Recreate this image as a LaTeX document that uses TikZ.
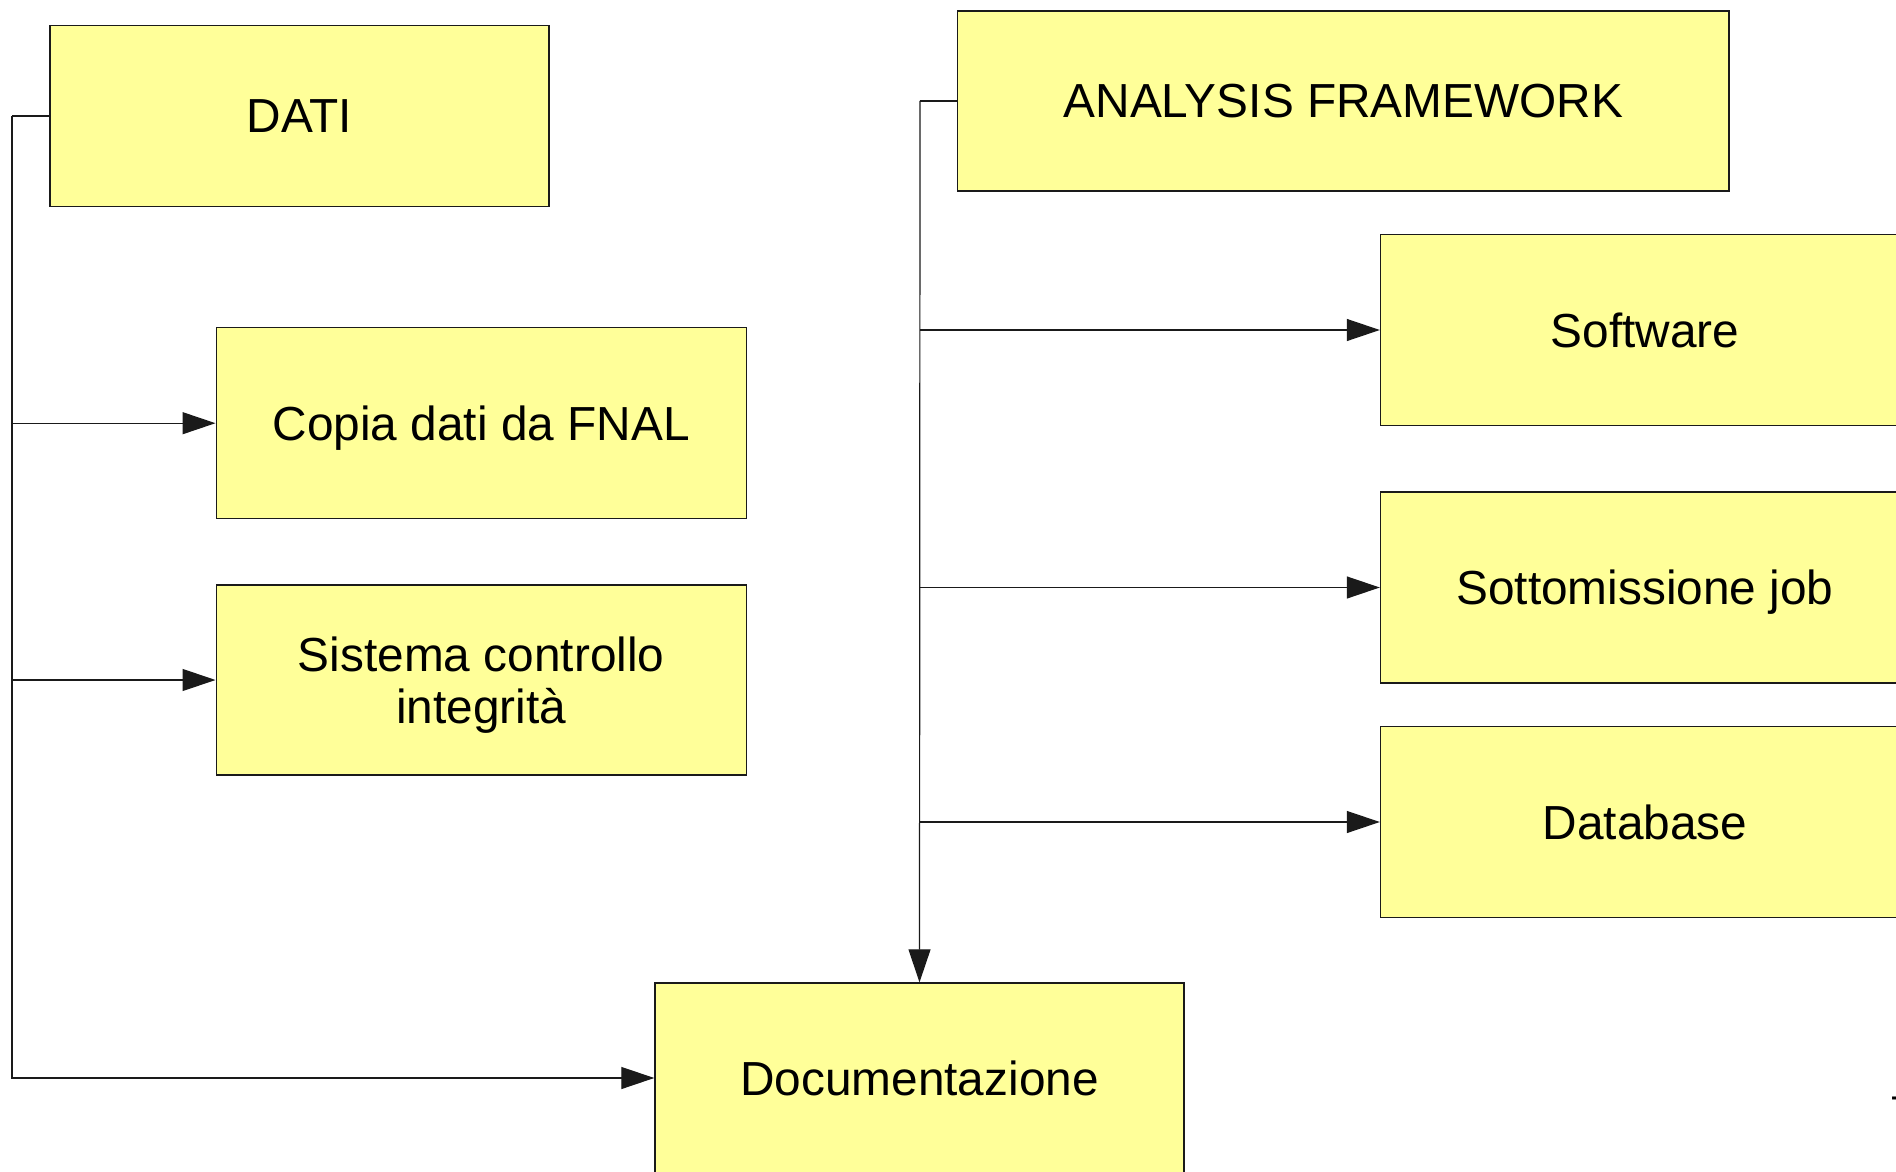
\documentclass[tikz,border=0pt]{standalone}
\usepackage{fontspec}
\setmainfont{Liberation Sans}
\usetikzlibrary{arrows.meta}
\definecolor{boxfill}{HTML}{FFFF99}
\definecolor{edge}{HTML}{1A1A1A}
\tikzset{
  block/.style={draw=edge, line width=1.4pt, fill=boxfill, inner sep=0pt,
    align=center, text depth=0pt, font=\fontsize{47.8}{52}\selectfont},
  link/.style={draw=edge, line width=1.2pt},
  arrowlink/.style={link, -{Triangle[length=33pt,width=22pt]}}
}
\begin{document}
\begin{tikzpicture}[x=1pt,y=-1pt]
  \useasboundingbox (0,0) rectangle (1896,1172);

  % left column
  \node[block, minimum width=499pt, minimum height=181pt] (dati) at (299.3,116) {DATI};
  \node[block, minimum width=530pt, minimum height=191pt] (copia) at (481.2,423.2) {Copia dati da FNAL};
  \node[block, minimum width=530pt, minimum height=190pt] (sist) at (481.2,680) {Sistema controllo\\integrità};

  % bottom
  \node[block, minimum width=529pt, minimum height=190pt] (doc) at (919.5,1078) {Documentazione};

  % right column
  \node[block, minimum width=771.5pt, minimum height=180pt] (af) at (1343.4,101) {ANALYSIS FRAMEWORK};
  \node[block, minimum width=529pt, minimum height=191pt] (sw) at (1645,330) {Software};
  \node[block, minimum width=529pt, minimum height=191pt] (sj) at (1645,587.5) {Sottomissione job};
  \node[block, minimum width=529pt, minimum height=191pt] (db) at (1645,822) {Database};

  % page number
  \node[anchor=north west, inner sep=0pt, font=\fontsize{40}{44}\selectfont] (pg) at (1890,1097) {7};

  % bus lines
  \coordinate (lb) at (12,116);
  \coordinate (rb) at (920,101);
  \draw[link] (dati.west) -- (lb);
  \draw[arrowlink] (lb) |- (doc.west);
  \draw[arrowlink] (lb |- copia.west) -- (copia.west);
  \draw[arrowlink] (lb |- sist.west) -- (sist.west);

  \draw[link] (af.west) -- (rb);
  \draw[arrowlink] (rb) -- (doc.north);
  \draw[arrowlink] (rb |- sw.west) -- (sw.west);
  \draw[arrowlink] (rb |- sj.west) -- (sj.west);
  \draw[arrowlink] (rb |- db.west) -- (db.west);
\end{tikzpicture}
\end{document}
